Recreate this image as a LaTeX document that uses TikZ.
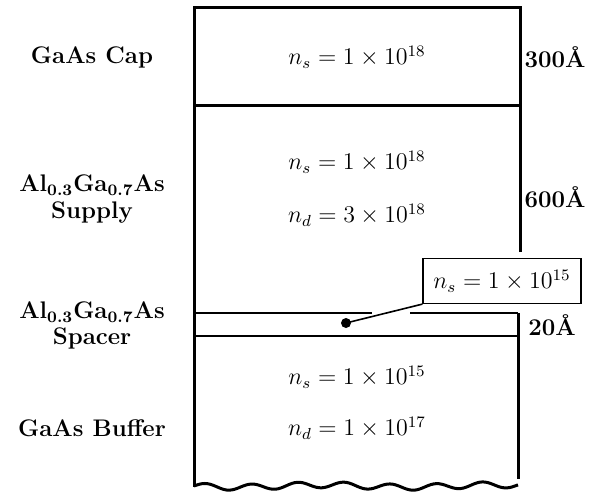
\documentclass[tikz,border=0pt]{standalone}
\usepackage{amsmath}
\begin{document}
\begin{tikzpicture}[x=0.5pt,y=-0.5pt,
  edge/.style={line width=1.5pt},
  thin edge/.style={line width=1.3pt},
  lbl/.style={font=\bfseries\large, align=center, inner sep=0pt},
  val/.style={font=\large, inner sep=0pt},
  callout/.style={draw, line width=0.6pt, fill=white, inner sep=5pt, font=\large}]
\useasboundingbox (0,0) rectangle (598,498);
% outer frame
\draw[edge] (520,252) -- (520,7) -- (194,7) -- (194,487);
\draw[edge] (518,313) -- (518,479);
\draw[edge] (194,105) -- (520,105);
% spacer lines
\draw[thin edge] (194,313) -- (372,313);
\draw[thin edge] (410,313) -- (518,313);
\draw[thin edge] (194,336) -- (518,336);
% wavy bottom
\draw[edge] plot[domain=194:518, samples=120, smooth] (\x, {486 - 3*sin((\x-194)*7.8) + 1.2*sin((\x-194)*2.1)});
% left labels
\node[lbl] (cap) at (92,57) {GaAs Cap};
\node[lbl] (sup1) at (92,185) {Al\textsubscript{0.3}Ga\textsubscript{0.7}As};
\node[lbl] (sup2) at (92,213) {Supply};
\node[lbl] (spa1) at (92,312) {Al\textsubscript{0.3}Ga\textsubscript{0.7}As};
\node[lbl] (spa2) at (92,338) {Spacer};
\node[lbl] (buf) at (92,428) {GaAs Buffer};
% right labels
\node[lbl] (t1) at (555,57) {300\AA};
\node[lbl] (t2) at (555,197) {600\AA};
\node[lbl] (t3) at (552,325) {20\AA};
% values
\node[val] (v1) at (357,57) {$n_s = 1\times 10^{18}$};
\node[val] (v2) at (357,162) {$n_s = 1\times 10^{18}$};
\node[val] (v3) at (357,215) {$n_d = 3\times 10^{18}$};
\node[val] (v4) at (357,377) {$n_s = 1\times 10^{15}$};
\node[val] (v5) at (357,428) {$n_d = 1\times 10^{17}$};
% callout
\node[callout, minimum width=79pt, minimum height=22.5pt] (co) at (502,281) {$n_s = 1\times 10^{15}$};
\node[circle, fill=black, inner sep=0pt, minimum size=5pt] (dot) at (346,323) {};
\draw[line width=0.8pt] (dot.center) -- (co.south west);
\end{tikzpicture}
\end{document}
